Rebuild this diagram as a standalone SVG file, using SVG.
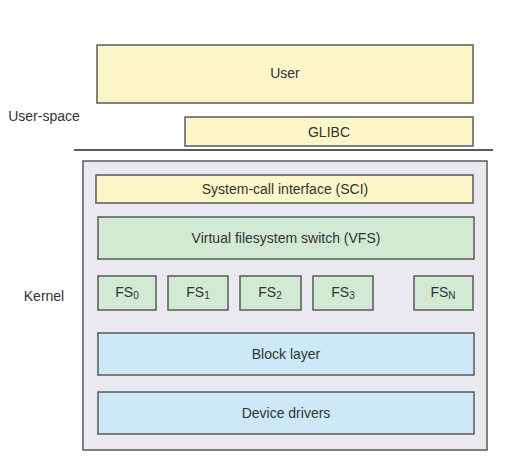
<svg xmlns="http://www.w3.org/2000/svg" width="505" height="461" viewBox="0 0 505 461">
<style>
.b{stroke:#5a5a5a;stroke-width:1.5}
.y{fill:#fcf6c8}
.g{fill:#d2e9d3}
.c{fill:#cde9f8}
text{font-family:"Liberation Sans",Arial,sans-serif;font-size:14px;fill:#333;text-anchor:middle;dominant-baseline:central}
.s{font-size:10px}
</style>
<rect width="505" height="461" fill="#fff"/>
<g id="labels">
<text x="44" y="116">User-space</text>
<text x="44" y="296">Kernel</text>
</g>
<g id="connectors">
<line x1="74" y1="150" x2="493" y2="150" stroke="#222" stroke-width="1.3"/>
</g>
<g id="kernel"><rect class="b" x="83" y="161" width="404" height="289" fill="#e9e9ef"/></g>
<g id="user"><rect class="b y" x="97" y="45" width="376" height="58"/><text x="285" y="73">User</text></g>
<g id="glibc"><rect class="b y" x="185" y="117" width="288" height="29"/><text x="329" y="131.5">GLIBC</text></g>
<g id="sci"><rect class="b y" x="96" y="175" width="377" height="28"/><text x="285" y="189">System-call interface (SCI)</text></g>
<g id="vfs"><rect class="b g" x="98" y="217" width="376" height="42"/><text x="286" y="238">Virtual filesystem switch (VFS)</text></g>
<g id="fs0"><rect class="b g" x="98" y="276" width="58" height="34"/><text x="127" y="292">FS<tspan class="s" dy="3">0</tspan></text></g>
<g id="fs1"><rect class="b g" x="168" y="276" width="60" height="34"/><text x="198" y="292">FS<tspan class="s" dy="3">1</tspan></text></g>
<g id="fs2"><rect class="b g" x="240" y="276" width="61" height="34"/><text x="270" y="292">FS<tspan class="s" dy="3">2</tspan></text></g>
<g id="fs3"><rect class="b g" x="313" y="276" width="60" height="34"/><text x="343" y="292">FS<tspan class="s" dy="3">3</tspan></text></g>
<g id="fsn"><rect class="b g" x="414" y="276" width="59" height="34"/><text x="443" y="292">FS<tspan class="s" dy="3">N</tspan></text></g>
<g id="block"><rect class="b c" x="98" y="333" width="376" height="42"/><text x="286" y="354">Block layer</text></g>
<g id="drivers"><rect class="b c" x="98" y="392" width="376" height="42"/><text x="286" y="413">Device drivers</text></g>
</svg>
